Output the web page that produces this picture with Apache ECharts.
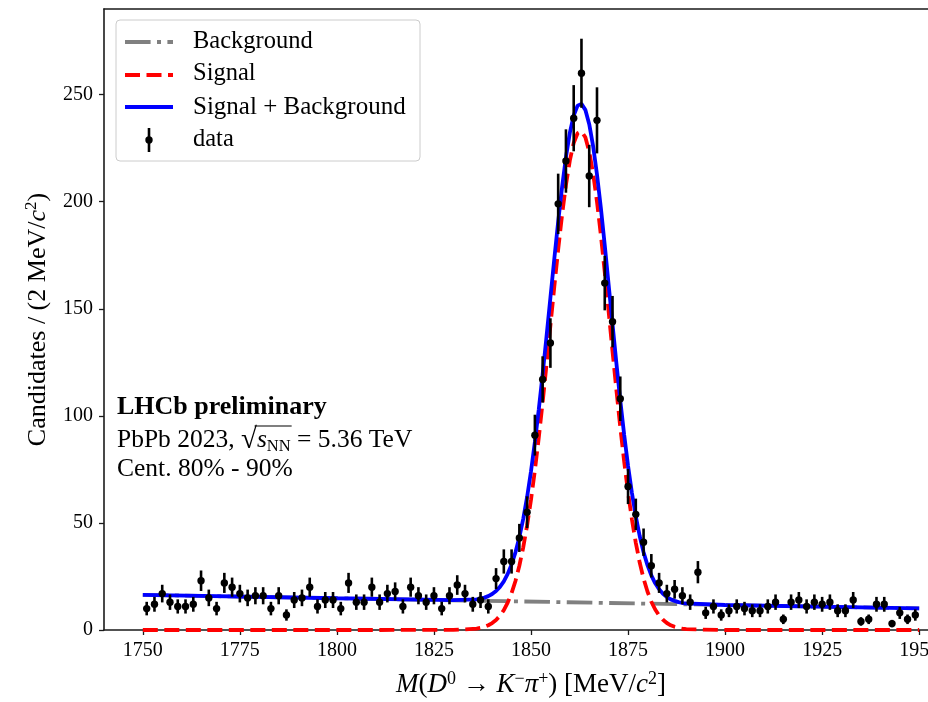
<!DOCTYPE html>
<html>
<head>
<meta charset="utf-8">
<script src="https://cdn.jsdelivr.net/npm/echarts@6/dist/echarts.min.js"></script>
<style>
  html, body { margin: 0; padding: 0; background: #ffffff; }
  #chart { width: 928px; height: 702px; }
</style>
</head>
<body>
<div id="chart"></div>
<script>
// D0 -> K- pi+ invariant-mass spectrum, 2 MeV/c^2 bins
const binCentres = [
  1751, 1753, 1755, 1757, 1759, 1761, 1763, 1765, 1767, 1769,
  1771, 1773, 1775, 1777, 1779, 1781, 1783, 1785, 1787, 1789,
  1791, 1793, 1795, 1797, 1799, 1801, 1803, 1805, 1807, 1809,
  1811, 1813, 1815, 1817, 1819, 1821, 1823, 1825, 1827, 1829,
  1831, 1833, 1835, 1837, 1839, 1841, 1843, 1845, 1847, 1849,
  1851, 1853, 1855, 1857, 1859, 1861, 1863, 1865, 1867, 1869,
  1871, 1873, 1875, 1877, 1879, 1881, 1883, 1885, 1887, 1889,
  1891, 1893, 1895, 1897, 1899, 1901, 1903, 1905, 1907, 1909,
  1911, 1913, 1915, 1917, 1919, 1921, 1923, 1925, 1927, 1929,
  1931, 1933, 1935, 1937, 1939, 1941, 1943, 1945, 1947, 1949
];
const candidates = [
  10, 12, 17, 13, 11, 11, 12, 23, 15, 10,
  22, 20, 17, 15, 16, 16, 10, 16, 7, 14,
  15, 20, 11, 14, 14, 10, 22, 13, 13, 20,
  13, 17, 18, 11, 20, 16, 13, 16, 10, 16,
  21, 17, 12, 14, 11, 24, 32, 32, 43, 55,
  91, 117, 134, 199, 219, 239, 260, 212, 238, 162,
  144, 108, 67, 54, 41, 30, 22, 17, 19, 16,
  13, 27, 8, 11, 7, 9, 11, 10, 9, 9,
  11, 13, 5, 13, 14, 11, 13, 12, 13, 9,
  9, 14, 4, 5, 12, 12, 3, 8, 5, 7
];

// Fit model tabulated on a mass grid
const fitMass = [
  1750, 1800, 1830,
  1836, 1837, 1838, 1839, 1840, 1841, 1842, 1843, 1844, 1845,
  1846, 1847, 1848, 1849, 1850, 1851, 1852, 1853, 1854, 1855,
  1856, 1857, 1858, 1859, 1860, 1861, 1862, 1863, 1864, 1865,
  1866, 1867, 1868, 1869, 1870, 1871, 1872, 1873, 1874, 1875,
  1876, 1877, 1878, 1879, 1880, 1881, 1882, 1883, 1884, 1885,
  1886, 1887, 1888, 1889, 1890,
  1900, 1950
];
const signalFit = [
  0, 0, 0.03,
  0.63, 0.98, 1.48, 2.21, 3.24, 4.68, 6.65, 9.26, 12.77, 17.25,
  22.9, 30.0, 38.6, 48.85, 60.85, 74.55, 89.8, 106.35, 124.0, 142.15,
  160.25, 177.65, 193.8, 207.8, 219.2, 227.4, 232.0, 232.9, 230.1, 223.4,
  213.2, 200.0, 184.4, 167.0, 148.7, 130.2, 112.0, 94.7, 78.7, 64.2,
  51.6, 40.7, 31.5, 24.0, 18.0, 13.2, 9.58, 6.81, 4.76, 3.27,
  2.21, 1.47, 0.96, 0.61, 0.38,
  0, 0
];
const totalFit = [
  16.4, 14.83, 13.91,
  14.32, 14.64, 15.11, 15.81, 16.81, 18.21, 20.15, 22.73, 26.21, 30.66,
  36.28, 43.34, 51.91, 62.13, 74.1, 87.77, 102.99, 119.51, 137.12, 155.24,
  173.31, 190.68, 206.8, 220.77, 232.14, 240.3, 244.87, 245.7, 242.9, 236.2,
  226.0, 212.7, 197.1, 179.7, 161.3, 142.8, 124.6, 107.2, 91.2, 76.7,
  64.0, 53.1, 43.9, 36.3, 30.3, 25.5, 21.8, 19.0, 16.9, 15.4,
  14.3, 13.6, 13.0, 12.6, 12.4,
  11.68, 10.1
];
const bkgMass = [1750, 1950];
const bkgFit = [16.4, 10.1];

const xTicks = [1750, 1775, 1800, 1825, 1850, 1875, 1900, 1925, 1950];
const yTicks = [0, 50, 100, 150, 200, 250];

const FONT = '"Liberation Serif", "DejaVu Serif", serif';
const GRAY = '#808080';
const RED = '#ff0000';
const BLUE = '#0000ff';
const LW = 3.8;
const DASH = [15, 6.5];
const DASHDOT = [25.6, 6.4, 4, 6.4];
const TXT = 25.5;
const RAD = 29;

const zip = (xs, ys) => xs.map((x, i) => [x, ys[i]]);

// text measurement for the radical's overbar
const measureCtx = document.createElement('canvas').getContext('2d');
function textWidth(str, size, style) {
  measureCtx.font = (style || '') + ' ' + size + 'px ' + FONT;
  return measureCtx.measureText(str).width;
}

const chart = echarts.init(document.getElementById('chart'), null, { renderer: 'canvas' });

const axisCommon = {
  axisLine: { show: true, onZero: false, lineStyle: { color: '#1a1a1a', width: 1.6 } },
  axisTick: { show: true, inside: false, length: 5, lineStyle: { color: '#1a1a1a', width: 1.3 } },
  splitLine: { show: false },
  axisLabel: { color: '#000', fontFamily: FONT, fontSize: 20, formatter: v => String(v) }
};

function titleRich(size) {
  return {
    r: { fontFamily: FONT, fontSize: size, color: '#000', lineHeight: 30 },
    i: { fontFamily: FONT, fontSize: size, fontStyle: 'italic', color: '#000', lineHeight: 30 },
    s: { fontFamily: FONT, fontSize: Math.round(size * 0.66), color: '#000', verticalAlign: 'top', lineHeight: 20 }
  };
}

// annotation line 2 pieces
const annoX = 117, annoY = 440;
const prefix = 'PbPb 2023, ';
const prefixW = textWidth(prefix, TXT, '');
const radicalW = textWidth('√', RAD, '');
const sW = textWidth('s', TXT, 'italic');
const nnW = textWidth('NN', 16.5, '');

const option = {
  animation: false,
  backgroundColor: '#ffffff',
  grid: { left: 104, width: 854, top: 9, bottom: 72, containLabel: false, outerBoundsMode: 'none' },
  xAxis: [
    {
      type: 'value', min: 1740, max: 1960, position: 'bottom',
      ...axisCommon,
      axisTick: { ...axisCommon.axisTick, customValues: xTicks },
      axisLabel: { ...axisCommon.axisLabel, customValues: xTicks, margin: 11 },
      name: '{i|M}{r|(}{i|D}{s|0}{r| → }{i|K}{s|−}{i|π}{s|+}{r|) [MeV/}{i|c}{s|2}{r|]}',
      nameLocation: 'middle',
      nameGap: 40,
      nameTextStyle: { rich: titleRich(27) }
    },
    {
      type: 'value', min: 1740, max: 1960, position: 'top',
      axisLine: { show: true, onZero: false, lineStyle: { color: '#1a1a1a', width: 1.6 } },
      axisTick: { show: false }, axisLabel: { show: false }, splitLine: { show: false }
    }
  ],
  yAxis: {
    type: 'value', min: 0, max: 290,
    ...axisCommon,
    axisTick: { ...axisCommon.axisTick, customValues: yTicks },
    axisLabel: { ...axisCommon.axisLabel, customValues: yTicks, margin: 11 },
    name: '{r|Candidates / (2 MeV/}{i|c}{s|2}{r|)}',
    nameLocation: 'middle',
    nameRotate: 90,
    nameGap: 51,
    nameTextStyle: { rich: titleRich(26) }
  },
  series: [
    {
      name: 'Background', type: 'line', xAxisIndex: 0, z: 2, clip: false,
      data: zip(bkgMass, bkgFit), showSymbol: false,
      lineStyle: { color: GRAY, width: LW, type: DASHDOT }
    },
    {
      name: 'Signal', type: 'line', xAxisIndex: 0, z: 3, clip: false,
      data: zip(fitMass, signalFit), showSymbol: false,
      lineStyle: { color: RED, width: LW, type: DASH }
    },
    {
      name: 'Signal + Background', type: 'line', xAxisIndex: 0, z: 4, clip: false,
      data: zip(fitMass, totalFit), showSymbol: false,
      lineStyle: { color: BLUE, width: LW }
    },
    {
      name: 'data', type: 'custom', xAxisIndex: 0, z: 5,
      data: zip(binCentres, candidates),
      renderItem: function (params, api) {
        const m = api.value(0), n = api.value(1), err = Math.sqrt(n);
        const c = api.coord([m, n]);
        const hi = api.coord([m, n + err]);
        const lo = api.coord([m, n - err]);
        return {
          type: 'group',
          children: [
            { type: 'line', shape: { x1: c[0], y1: hi[1], x2: c[0], y2: lo[1] },
              style: { stroke: '#000', lineWidth: 2.6 } },
            { type: 'circle', shape: { cx: c[0], cy: c[1], r: 3.7 },
              style: { fill: '#000' } }
          ]
        };
      }
    }
  ],
  graphic: [
    // legend frame
    { type: 'rect', shape: { x: 116, y: 20, width: 304, height: 141, r: 4 },
      style: { fill: 'rgba(255,255,255,0.85)', stroke: '#cccccc', lineWidth: 1 }, z: 10 },
    { type: 'line', shape: { x1: 125, y1: 42, x2: 173, y2: 42 },
      style: { stroke: GRAY, lineWidth: LW, lineDash: DASHDOT }, z: 11 },
    { type: 'line', shape: { x1: 125, y1: 75, x2: 173, y2: 75 },
      style: { stroke: RED, lineWidth: LW, lineDash: DASH }, z: 11 },
    { type: 'line', shape: { x1: 125, y1: 107, x2: 173, y2: 107 },
      style: { stroke: BLUE, lineWidth: LW }, z: 11 },
    { type: 'line', shape: { x1: 149, y1: 128, x2: 149, y2: 152 },
      style: { stroke: '#000', lineWidth: 2.6 }, z: 11 },
    { type: 'circle', shape: { cx: 149, cy: 140, r: 3.7 }, style: { fill: '#000' }, z: 11 },
    { type: 'text', x: 193, y: 42, z: 11,
      style: { text: 'Background', fontFamily: FONT, fontSize: 24.5, fill: '#000', verticalAlign: 'middle' } },
    { type: 'text', x: 193, y: 74, z: 11,
      style: { text: 'Signal', fontFamily: FONT, fontSize: 24.5, fill: '#000', verticalAlign: 'middle' } },
    { type: 'text', x: 193, y: 107, z: 11,
      style: { text: 'Signal + Background', fontFamily: FONT, fontSize: 25, fill: '#000', verticalAlign: 'middle' } },
    { type: 'text', x: 193, y: 140, z: 11,
      style: { text: 'data', fontFamily: FONT, fontSize: 24.5, fill: '#000', verticalAlign: 'middle' } },
    // experiment label
    { type: 'text', x: annoX, y: 407, z: 11,
      style: { text: 'LHCb preliminary', fontFamily: FONT, fontWeight: 'bold', fontSize: 26, fill: '#000', verticalAlign: 'middle' } },
    { type: 'text', x: annoX, y: annoY, z: 11,
      style: {
        text: '{r|' + prefix + '}{q|√}{i|s}{b|NN}{r| = 5.36 TeV}',
        verticalAlign: 'middle',
        rich: {
          r: { fontFamily: FONT, fontSize: TXT, fill: '#000', lineHeight: 30 },
          q: { fontFamily: FONT, fontSize: RAD, fill: '#000', lineHeight: 30 },
          i: { fontFamily: FONT, fontSize: TXT, fontStyle: 'italic', fill: '#000', lineHeight: 30 },
          b: { fontFamily: FONT, fontSize: 16.5, fill: '#000', verticalAlign: 'bottom', lineHeight: 22 }
        }
      } },
    { type: 'line', z: 11,
      shape: { x1: annoX + prefixW + radicalW * 0.85, y1: annoY - 14,
               x2: annoX + prefixW + radicalW + sW + nnW + 1, y2: annoY - 14 },
      style: { stroke: '#000', lineWidth: 1.2 } },
    { type: 'text', x: annoX, y: 469, z: 11,
      style: { text: 'Cent. 80% - 90%', fontFamily: FONT, fontSize: TXT, fill: '#000', verticalAlign: 'middle' } }
  ]
};

chart.setOption(option);
</script>
</body>
</html>
